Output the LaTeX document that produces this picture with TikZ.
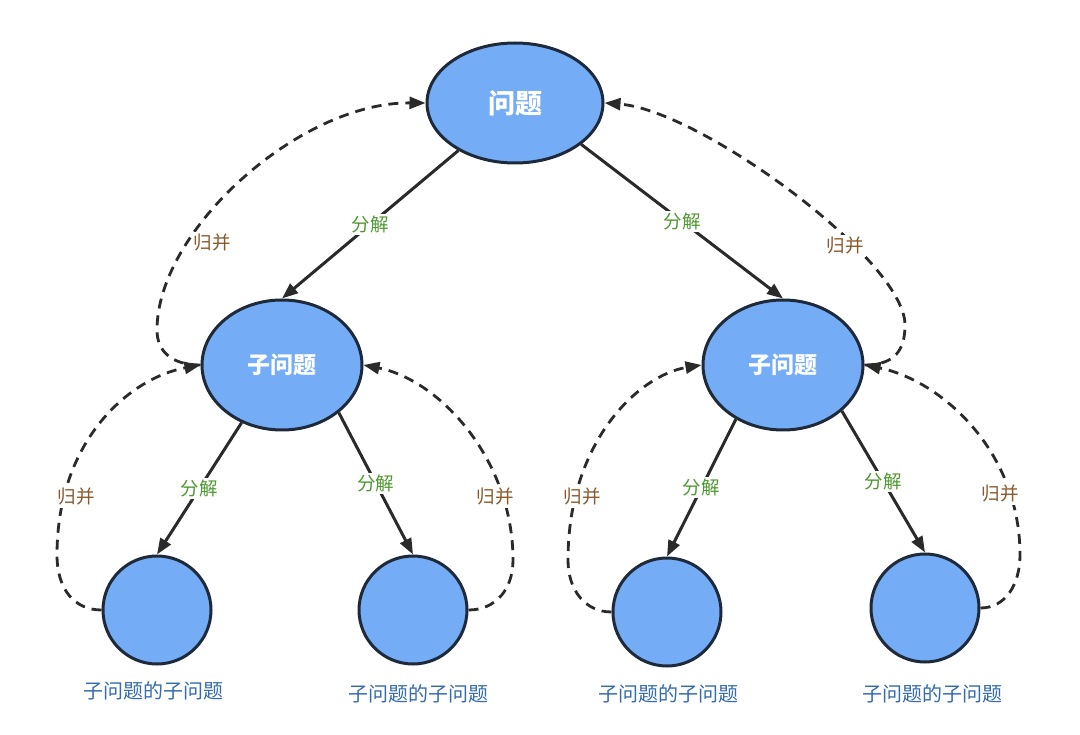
\documentclass[tikz,border=0pt]{standalone}
\usepackage{fontspec}
\setmainfont{Noto Sans CJK SC}
\usetikzlibrary{arrows.meta,shapes.geometric}
\definecolor{nodefill}{RGB}{116,172,246}
\definecolor{nodeline}{RGB}{30,42,58}
\definecolor{lineclr}{RGB}{42,42,42}
\definecolor{greenlbl}{RGB}{78,152,48}
\definecolor{brownlbl}{RGB}{138,88,42}
\definecolor{bluelbl}{RGB}{52,108,172}
\begin{document}
\begin{tikzpicture}[x=1pt,y=-1pt,
  ovalnode/.style={ellipse, draw=nodeline, line width=3pt, fill=nodefill, inner sep=0pt, text=white},
  leafnode/.style={circle, draw=nodeline, line width=3pt, fill=nodefill, inner sep=0pt, minimum size=108pt},
  leaflabel/.style={text=bluelbl, font=\fontsize{20}{20}\selectfont, inner sep=0pt},
  splitlbl/.style={fill=white, text=greenlbl, font=\fontsize{18.5}{19}\selectfont, inner sep=2pt},
  mergelbl/.style={fill=white, text=brownlbl, font=\fontsize{18.5}{19}\selectfont, inner sep=2pt},
  splitarrow/.style={draw=lineclr, line width=3pt, -{Triangle[length=16pt,width=12pt]}},
  mergearrow/.style={draw=lineclr, line width=2.8pt, dash pattern=on 10pt off 7pt, -{Triangle[length=16pt,width=12pt]}}
]
\useasboundingbox (0,0) rectangle (1080,735);

% nodes
\node[ovalnode, minimum width=176pt, minimum height=120pt, font=\bfseries\fontsize{27}{28}\selectfont] (root) at (515,103) {问题};
\node[ovalnode, minimum width=160pt, minimum height=130pt, font=\bfseries\fontsize{23}{24}\selectfont] (s1) at (282,365) {子问题};
\node[ovalnode, minimum width=160pt, minimum height=130pt, font=\bfseries\fontsize{23}{24}\selectfont] (s2) at (783,365) {子问题};
\node[leafnode] (l1) at (157,610) {};
\node[leafnode] (l2) at (413,610) {};
\node[leafnode] (l3) at (667,612) {};
\node[leafnode] (l4) at (925,608) {};

\node[leaflabel] (t1) at (153,691) {子问题的子问题};
\node[leaflabel] (t2) at (418,694) {子问题的子问题};
\node[leaflabel] (t3) at (668,694) {子问题的子问题};
\node[leaflabel] (t4) at (932,694) {子问题的子问题};

% split arrows
\draw[splitarrow] (root.220) -- (s1.north) node[splitlbl, midway] (d1) {分解};
\draw[splitarrow] (root.-32) -- (s2.north) node[splitlbl, midway] (d2) {分解};
\draw[splitarrow] (s1.235) -- (l1.north) node[splitlbl, midway] (d3) {分解};
\draw[splitarrow] (s1.-40) -- (l2.north) node[splitlbl, midway] (d4) {分解};
\draw[splitarrow] (s2.229) -- (l3.north) node[splitlbl, midway] (d5) {分解};
\draw[splitarrow] (s2.-38) -- (l4.north) node[splitlbl, midway] (d6) {分解};

% merge curves
\coordinate (ka) at (157,330);
\coordinate (kb) at (57,555);
\coordinate (kc) at (513,560);
\coordinate (kd) at (905,325);
\coordinate (ke) at (568,560);
\coordinate (kf) at (1020,555);

\draw[mergearrow] (s1.west) .. controls (170,365) and (157,350) .. (ka)
  .. controls (157,230) and (300,102) .. (root.west);
\draw[mergearrow] (l1.west) .. controls (75,610) and (57,590) .. (kb)
  .. controls (57,440) and (130,378) .. (s1.west);
\draw[mergearrow] (l2.east) .. controls (495,610) and (513,590) .. (kc)
  .. controls (513,460) and (440,380) .. (s1.east);
\draw[mergearrow] (s2.east) .. controls (895,365) and (905,350) .. (kd)
  .. controls (905,260) and (700,110) .. (root.east);
\draw[mergearrow] (l3.west) .. controls (585,612) and (568,590) .. (ke)
  .. controls (568,440) and (640,375) .. (s2.west);
\draw[mergearrow] (l4.east) .. controls (1005,608) and (1020,585) .. (kf)
  .. controls (1020,450) and (940,380) .. (s2.east);

\node[mergelbl] (m1) at (212,243) {归并};
\node[mergelbl] (m2) at (845,246) {归并};
\node[mergelbl] (m3) at (76,497) {归并};
\node[mergelbl] (m4) at (495,497) {归并};
\node[mergelbl] (m5) at (582,497) {归并};
\node[mergelbl] (m6) at (1000,494) {归并};
\end{tikzpicture}
\end{document}
